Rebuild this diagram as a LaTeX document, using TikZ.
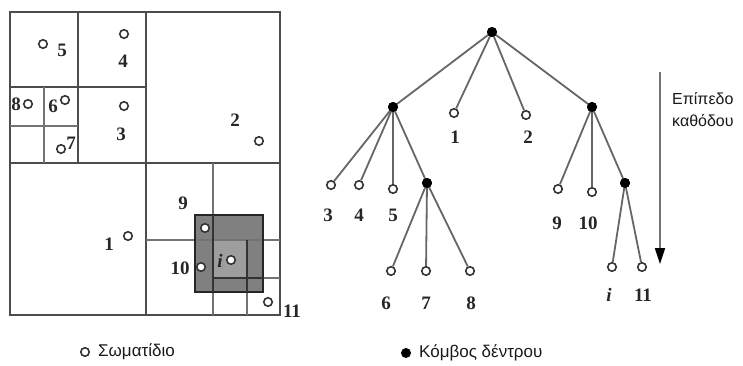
\documentclass[tikz,border=0pt]{standalone}
\usepackage{fontspec}
\setmainfont{Liberation Serif}
\newfontfamily\grk{Liberation Sans}
\usetikzlibrary{arrows.meta}
\begin{document}
\begin{tikzpicture}[x=1pt,y=-1pt,
 qline/.style={line width=1.6pt, draw=black!70},
 qthin/.style={line width=1.1pt, draw=black!55},
 part/.style={circle, draw=black!80, line width=1.6pt, fill=white, minimum size=8.5pt, inner sep=0pt},
 tnode/.style={circle, fill=black, minimum size=10pt, inner sep=0pt},
 num/.style={font=\bfseries\fontsize{19}{19}\selectfont, inner sep=0pt, text=black!85},
 inum/.style={num, font=\bfseries\itshape\fontsize{19}{19}\selectfont},
 edge/.style={draw=black!60, line width=1.8pt},
 lbl/.style={font=\grk\fontsize{17}{19}\selectfont, inner sep=0pt, text=black!90}]
\useasboundingbox (0,0) rectangle (743,366);
% ---- quadtree ----
\fill[black!50] (195,215) rectangle (263,292);
\fill[black!38] (213,240) rectangle (247,278);
\draw[qline] (10,12) rectangle (280,315);
\draw[qline] (146,12) -- (146,315);
\draw[qline] (10,163) -- (280,163);
\draw[qline] (78,12) -- (78,163);
\draw[qline] (10,87) -- (146,87);
\draw[qthin] (44,87) -- (44,163);
\draw[qthin] (10,126) -- (78,126);
\draw[qthin] (213,163) -- (213,315);
\draw[qthin] (146,240) -- (280,240);
\draw[qthin] (247,240) -- (247,315);
\draw[qthin] (213,278) -- (280,278);
\draw[line width=1.8pt, black!85] (195,215) rectangle (263,292);
\draw[line width=1.5pt, black!80] (213,215) -- (213,292);
\draw[line width=1.5pt, black!80] (213,278) -- (263,278);
\draw[line width=1.5pt, black!80] (247,240) -- (247,292);
% particles
\node[part] (q5) at (43,44) {};
\node[num] at (62,50) {5};
\node[part] (q4) at (124,34) {};
\node[num] at (123,61) {4};
\node[part] (q8) at (28,104) {};
\node[num] at (16,104) {8};
\node[part] (q6) at (65,100) {};
\node[num] at (53,106) {6};
\node[part] (q3) at (124,106) {};
\node[num] at (121,134) {3};
\node[part] (q7) at (61,149) {};
\node[num] at (71,143) {7};
\node[part] (q2) at (259,141) {};
\node[num] at (235,120) {2};
\node[part] (q1) at (128,236) {};
\node[num] at (109,244) {1};
\node[part] (q9) at (205,228) {};
\node[num] at (183,203) {9};
\node[part] (q10) at (201,267) {};
\node[num] at (180,268) {10};
\node[part] (qi) at (231,260) {};
\node[inum] at (220,261) {i};
\node[part] (q11) at (268,302) {};
\node[num] at (292,311) {11};
% ---- tree ----
\node[tnode] (root) at (492,32) {};
\node[tnode] (L) at (393,107) {};
\node[part] (t1) at (454,113) {};
\node[part] (t2) at (526,115) {};
\node[tnode] (R) at (592,107) {};
\node[part] (t3) at (331,185) {};
\node[part] (t4) at (359,185) {};
\node[part] (t5) at (393,189) {};
\node[tnode] (LL) at (427,183) {};
\node[part] (t6) at (391,271) {};
\node[part] (t7) at (426,271) {};
\node[part] (t8) at (470,271) {};
\node[part] (t9) at (558,189) {};
\node[part] (t10) at (592,192) {};
\node[tnode] (RR) at (625,183) {};
\node[part] (ti) at (612,267) {};
\node[part] (t11) at (642,267) {};
\draw[edge] (root.center) -- (L.center);
\draw[edge] (root.center) -- (t1);
\draw[edge] (root.center) -- (t2);
\draw[edge] (root.center) -- (R.center);
\draw[edge] (L.center) -- (t3);
\draw[edge] (L.center) -- (t4);
\draw[edge] (L.center) -- (t5);
\draw[edge] (L.center) -- (LL.center);
\draw[edge] (LL.center) -- (t6);
\draw[edge] (LL.center) -- (t7);
\draw[edge] (LL.center) -- (t8);
\draw[edge] (R.center) -- (t9);
\draw[edge] (R.center) -- (t10);
\draw[edge] (R.center) -- (RR.center);
\draw[edge] (RR.center) -- (ti);
\draw[edge] (RR.center) -- (t11);
\foreach \n in {root,L,R,LL,RR} {\node[tnode] at (\n) {};}
\node[num] at (455,137) {1};
\node[num] at (528,137) {2};
\node[num] at (328,215) {3};
\node[num] at (359,215) {4};
\node[num] at (393,215) {5};
\node[num] at (557,223) {9};
\node[num] at (588,223) {10};
\node[num] at (386,303) {6};
\node[num] at (426,303) {7};
\node[num] at (471,303) {8};
\node[inum] at (609,295) {i};
\node[num] at (643,295) {11};
% arrow
\coordinate (a1) at (660,72);
\coordinate (a2) at (660,264);
\draw[line width=1.8pt, black!55, -{Triangle[length=16pt,width=10pt,color=black]}] (a1) -- (a2);
\node[lbl, anchor=west, font=\grk\fontsize{16}{19}\selectfont] (e1) at (672,99) {Επίπεδο};
\node[lbl, anchor=west, font=\grk\fontsize{16}{19}\selectfont] (e2) at (672,121) {καθόδου};
% legend
\node[part] (lp) at (85,352) {};
\node[lbl, anchor=west] at (98,352) {Σωματίδιο};
\node[tnode] (ln) at (406,353) {};
\node[lbl, anchor=west] at (419,353) {Κόμβος δέντρου};
\end{tikzpicture}
\end{document}
